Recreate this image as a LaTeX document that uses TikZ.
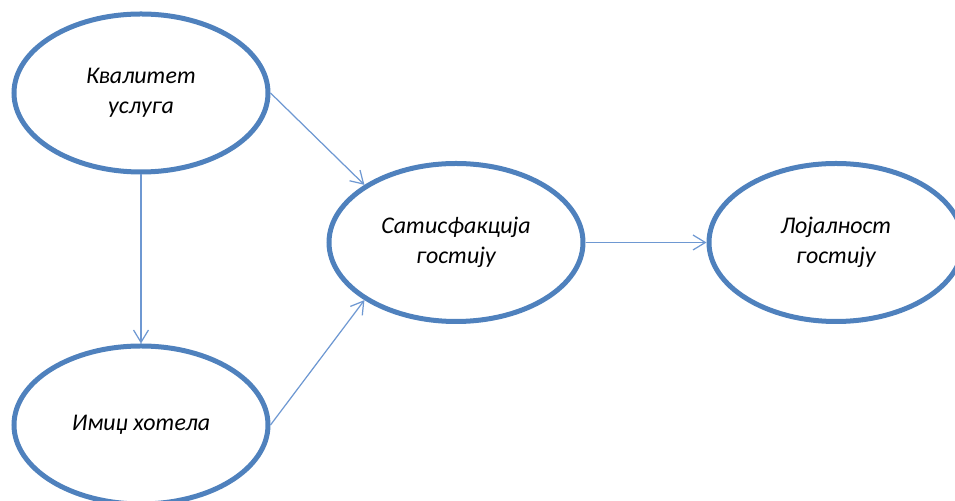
\documentclass[tikz,border=0pt]{standalone}
\usepackage{fontspec}
\setmainfont{Carlito}
\usepackage{xcolor}
\definecolor{EllipseBlue}{RGB}{79,129,189}
\definecolor{ConnBlue}{RGB}{110,152,210}
\usetikzlibrary{arrows.meta,shapes.geometric}

\begin{document}
\begin{tikzpicture}[
    construct/.style={draw=EllipseBlue, line width=0.1cm, ellipse,
        minimum width=5.08cm, minimum height=3.16cm, inner sep=0pt,
        align=center, font=\fontsize{13.6}{16.8}\selectfont\itshape},
    link/.style={draw=ConnBlue, line width=0.7pt,
        -{Straight Barb[length=7pt,width=8.5pt]}}
]
    \useasboundingbox (0,0) rectangle (19.1,10.02);

    % Constructs
    \node[construct] (kvalitet) at (2.82, 8.16) {Квалитет\\услуга};
    \node[construct] (imidz) at (2.82, 1.52) {Имиџ хотела};
    \node[construct] (satisf) at (9.12, 5.17) {Сатисфакција\\гостију};
    \node[construct] (lojal) at (16.72, 5.17) {Лојалност\\гостију};

    % Paths
    \draw[link] (kvalitet.east) -- (satisf.north west);
    \draw[link] (kvalitet.south) -- (imidz.north);
    \draw[link] (imidz.east) -- (satisf.south west);
    \draw[link] (satisf.east) -- (lojal.west);
\end{tikzpicture}
\end{document}
